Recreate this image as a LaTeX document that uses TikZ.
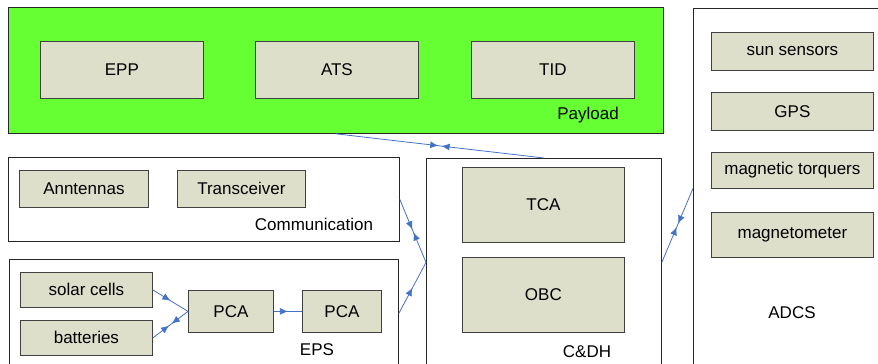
\documentclass[tikz,border=0pt]{standalone}
\usepackage{fontspec}
\setmainfont{Liberation Sans}
\usetikzlibrary{arrows.meta,decorations.markings}
\definecolor{paygreen}{HTML}{66FF33}
\definecolor{partfill}{HTML}{DDDFCA}
\definecolor{linkblue}{HTML}{4472C4}
\tikzset{linktip/.tip={Latex[length=8pt,width=7pt]}}
\begin{document}
\begin{tikzpicture}[x=1pt,y=-1pt,
  font=\fontsize{17}{20}\selectfont,
  group/.style={draw=black!85,line width=0.8pt,anchor=north west,inner sep=0pt},
  part/.style={draw=black!75,fill=partfill,line width=0.8pt,anchor=north west,inner sep=0pt},
  link/.style={draw=linkblue,line width=0.8pt,postaction={decorate}},
  midone/.style={link,decoration={markings,
    mark=at position 0.5 with {\arrow{linktip}}}},
  midtwo/.style={link,decoration={markings,
    mark=at position 0.5-#1 with {\arrow{linktip}},
    mark=at position 0.5+#1 with {\arrowreversed{linktip}}}}]
\clip (0,0) rectangle (878,364);
% payload
\node[group,fill=paygreen,minimum width=655pt,minimum height=126pt] (payload) at (8,7) {};
\node[part,minimum width=163pt,minimum height=57pt] (epp) at (40,41) {EPP};
\node[part,minimum width=163pt,minimum height=57pt] (ats) at (255,41) {ATS};
\node[part,minimum width=163pt,minimum height=57pt] (tid) at (471,41) {TID};
\node (payload-lbl) at (588,115) {Payload};
% communication
\node[group,minimum width=391pt,minimum height=84pt] (comm) at (8,157) {};
\node[part,minimum width=129pt,minimum height=37pt] (ant) at (19,170) {Anntennas};
\node[part,minimum width=128pt,minimum height=37pt] (trx) at (177,170) {Transceiver};
\node (comm-lbl) at (314,224) {Communication};
% eps
\node[group,minimum width=389pt,minimum height=108pt] (eps) at (9,259) {};
\node[part,minimum width=132pt,minimum height=35pt] (solar) at (20,272) {solar cells};
\node[part,minimum width=132pt,minimum height=35pt] (batt) at (20,320) {batteries};
\node[part,minimum width=85pt,minimum height=42pt] (pca1) at (188,290) {PCA};
\node[part,minimum width=79pt,minimum height=42pt] (pca2) at (302,290) {PCA};
\node (eps-lbl) at (317,350) {EPS};
% c&dh
\node[group,minimum width=235pt,minimum height=208pt] (cdh) at (426,158) {};
\node[part,minimum width=162pt,minimum height=75pt] (tca) at (462,167) {TCA};
\node[part,minimum width=162pt,minimum height=75pt] (obc) at (462,257) {OBC};
\node (cdh-lbl) at (587,352) {C\&DH};
% adcs
\node[group,minimum width=200pt,minimum height=360pt] (adcs) at (693,8) {};
\node[part,minimum width=162pt,minimum height=38pt] (sun) at (711,32) {sun sensors};
\node[part,minimum width=162pt,minimum height=38pt] (gps) at (711,92) {GPS};
\node[part,minimum width=162pt,minimum height=36pt] (torq) at (711,152) {magnetic torquers};
\node[part,minimum width=162pt,minimum height=45pt] (magm) at (711,212) {magnetometer};
\node (adcs-lbl) at (792,313) {ADCS};
% links
\draw[midtwo=0.008] (payload.south) -- (cdh.north);
\draw[midtwo=0.025] (comm.east) -- (cdh.west);
\draw[midone] (eps.east) -- (cdh.west);
\draw[midtwo=0.025] (cdh.east) -- (adcs.west);
\draw[midone] (solar.east) -- (pca1.west);
\draw[midtwo=0.04] (batt.east) -- (pca1.west);
\draw[midone] (pca1.east) -- (pca2.west);
\end{tikzpicture}
\end{document}
